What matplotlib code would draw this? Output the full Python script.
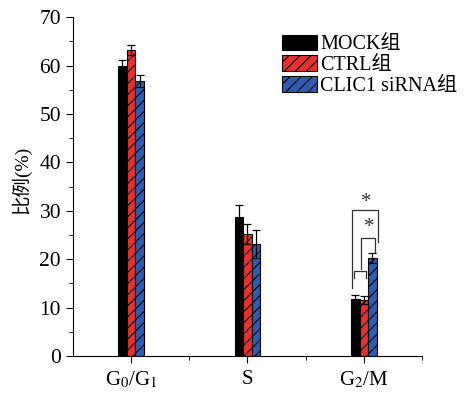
import numpy as np
import matplotlib
matplotlib.use("Agg")
import matplotlib.pyplot as plt
from matplotlib.ticker import MultipleLocator, FixedLocator

plt.rcParams['font.family'] = ['Liberation Serif', 'Noto Sans CJK SC']
plt.rcParams['mathtext.fontset'] = 'stix'
plt.rcParams['hatch.linewidth'] = 0.8

# =========================
# DATI
# =========================
phases = ['G$_0$/G$_1$', 'S', 'G$_2$/M']
groups = ['MOCK组', 'CTRL组', 'CLIC1 siRNA组']
mock = [60.0, 28.7, 11.7]
ctrl = [63.2, 25.2, 11.6]
sirna = [56.8, 23.1, 20.2]
mock_err = [1.2, 2.5, 0.8]
ctrl_err = [1.0, 2.1, 0.8]
sirna_err = [1.3, 2.9, 1.0]

colors = ['#000000', '#e8302c', '#2f5caf']
hatches = [None, '///', '///']

# =========================
# PLOT
# =========================
fig = plt.figure(figsize=(4.7, 3.98), dpi=100)
ax = fig.add_axes([0.155, 0.1055, 0.743, 0.8515])

x = np.arange(1, len(phases) + 1)
w = 0.074
series = [mock, ctrl, sirna]
errs = [mock_err, ctrl_err, sirna_err]
for i, (vals, err) in enumerate(zip(series, errs)):
    pos = x + (i - 1) * w
    ax.bar(pos, vals, width=w, color=colors[i], edgecolor='black',
           linewidth=0.8, hatch=hatches[i], label=groups[i])
    ax.errorbar(pos, vals, yerr=err, fmt='none', ecolor='black',
                elinewidth=0.9, capsize=3, capthick=0.9)

# --- parentesi significativita' G2/M ---
def bracket(x0, x1, y_top, y0, y1, star=None, star_y=None):
    ax.plot([x0, x0, x1, x1], [y0, y_top, y_top, y1], color='#333333', lw=0.9)
    if star:
        ax.text((x0 + x1) / 2 + 0.01, star_y, star, ha='center', va='center',
                fontsize=15, color='#333333')

bracket(2.90, 3.12, 30.2, 14.0, 23.6, '*', 31.8)
bracket(2.973, 3.096, 24.4, 18.0, 21.5, '*', 26.6)
bracket(2.914, 3.017, 17.6, 16.1, 16.1)

ax.set_xlim(0.5, 3.5)
ax.set_ylim(0, 70)
ax.set_xticks(x)
ax.set_xticklabels(phases, fontsize=15)
ax.xaxis.set_minor_locator(FixedLocator([1.5, 2.5, 3.5]))
ax.yaxis.set_major_locator(MultipleLocator(10))
ax.yaxis.set_minor_locator(MultipleLocator(5))
ax.tick_params(axis='y', which='major', labelsize=15.5, length=5, direction='out')
ax.tick_params(axis='y', which='minor', length=3, direction='out')
ax.tick_params(axis='x', which='major', length=5, direction='out', pad=5)
ax.tick_params(axis='x', which='minor', length=3, direction='out')
ax.spines['top'].set_visible(False)
ax.spines['right'].set_visible(False)
ax.set_ylabel('比例(%)', fontsize=14)
ax.yaxis.set_label_coords(-0.12, 0.52)

ax.legend(loc='upper left', bbox_to_anchor=(0.587, 0.96), frameon=False,
          fontsize=14.5, handlelength=1.75, handleheight=0.8,
          handletextpad=0.15, labelspacing=0.05, borderaxespad=0.0,
          borderpad=0.2)

plt.savefig('out.png', dpi=100)
plt.close()
